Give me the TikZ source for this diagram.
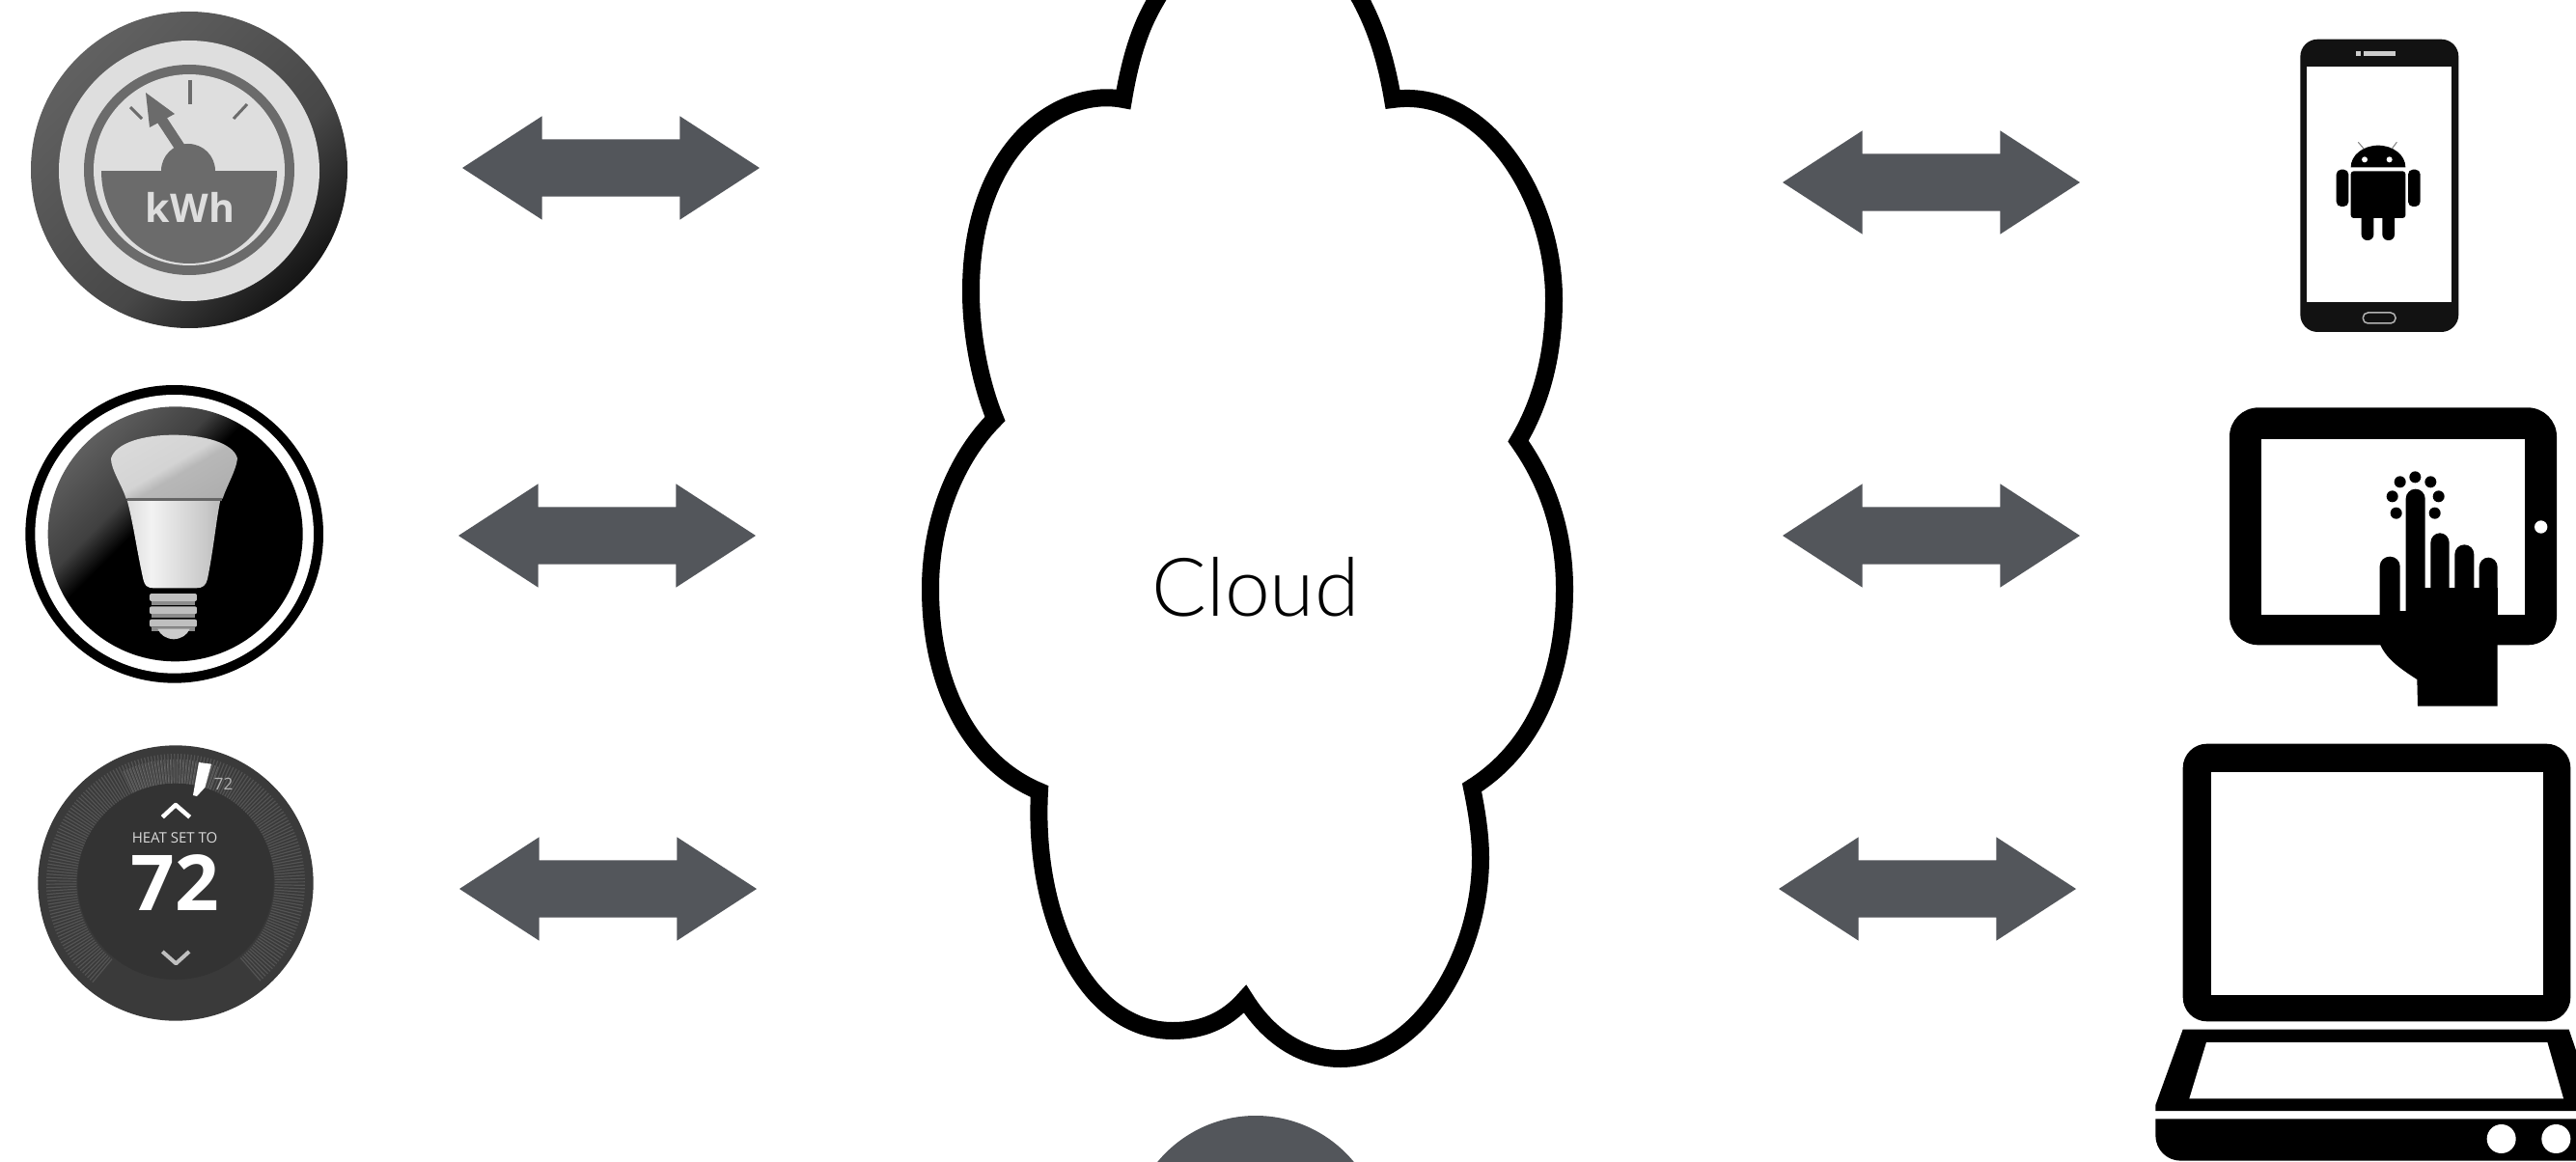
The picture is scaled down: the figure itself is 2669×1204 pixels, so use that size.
\documentclass[tikz,border=0pt]{standalone}
\usepackage{fontspec}
\usetikzlibrary{shapes.arrows,shapes.geometric}
\setmainfont{Liberation Sans}
\newfontfamily\cloudfont{Lato Light}
\newfontfamily\iconfont[BoldFont={Open Sans Bold}]{Open Sans}
\definecolor{arrowgrey}{HTML}{53565B}
\definecolor{meterdark}{HTML}{6B6B6B}
\definecolor{meterlight}{HTML}{DEDEDE}
\definecolor{thermo}{HTML}{3A3A3A}
\definecolor{thermoin}{HTML}{333333}
\definecolor{thermoband}{HTML}{545454}
\pgfdeclareverticalshading{glossy}{100bp}{color(0bp)=(black); color(56bp)=(black); color(62bp)=(black!75!white); color(100bp)=(black!40!white)}
\pgfdeclareverticalshading{ringshade}{100bp}{color(0bp)=(black); color(25bp)=(black!92!white); color(42bp)=(black!72!white); color(75bp)=(black!62!white); color(100bp)=(black!50!white)}
\pgfdeclareverticalshading{bulbtop}{100bp}{color(0bp)=(black!35!white); color(45bp)=(black!28!white); color(52bp)=(black!17!white); color(100bp)=(black!12!white)}
\pgfdeclarehorizontalshading{bulblow}{100bp}{color(0bp)=(black!30!white); color(38bp)=(black!5!white); color(65bp)=(black!20!white); color(100bp)=(black!42!white)}
\tikzset{
  duplex/.style={double arrow, draw=none, fill=arrowgrey, minimum height=308pt, minimum width=107pt,
    double arrow head extend=24pt, inner xsep=0pt, inner ysep=29.5pt, double arrow tip angle=66, anchor=center, text width=0pt},
  iconblack/.style={fill=black},
  outline/.style={draw=black, line width=18pt, line join=miter, miter limit=3}
}
\begin{document}
\begin{tikzpicture}[x=1pt,y=-1pt]
\useasboundingbox (0,0) rectangle (2669,1204);
\clip (0,0) rectangle (2669,1204);
\fill[white] (0,0) rectangle (2669,1204);

% cloud
\draw[outline] (1164,103)
  .. controls (1172,55) and (1183,25) .. (1198,0)
  .. controls (1220,-40) and (1260,-60) .. (1300,-60)
  .. controls (1340,-60) and (1388,-40) .. (1410,0)
  .. controls (1423,25) and (1435,55) .. (1443,103)
  .. controls (1535,90) and (1610,200) .. (1610,310)
  .. controls (1610,365) and (1598,415) .. (1573,457)
  .. controls (1600,495) and (1621,545) .. (1621,610)
  .. controls (1621,700) and (1590,775) .. (1525,816)
  .. controls (1530,840) and (1534,865) .. (1534,889)
  .. controls (1534,990) and (1470,1097) .. (1389,1097)
  .. controls (1350,1097) and (1315,1075) .. (1290,1035)
  .. controls (1270,1058) and (1245,1068) .. (1215,1068)
  .. controls (1125,1068) and (1070,950) .. (1077,820)
  .. controls (1005,790) and (964,710) .. (964,610)
  .. controls (964,540) and (990,475) .. (1031,434)
  .. controls (1017,400) and (1006,350) .. (1006,302)
  .. controls (1006,150) and (1100,90) .. (1164,103)
  -- cycle;
\fill[white] (1300,1107) rectangle (1500,1130);
\node[inner sep=0pt, font=\cloudfont\fontsize{84pt}{84pt}\selectfont] (cloudlabel) at (1301,608) {Cloud};

% hub circle at the bottom
\node[circle, fill=arrowgrey, minimum size=264pt, inner sep=0pt] (hub) at (1301,1288) {};

% arrows
\node[duplex] (al1) at (633,174) {};
\node[duplex] (al2) at (629,555) {};
\node[duplex] (al3) at (630,921) {};
\node[duplex] (ar1) at (2001,189) {};
\node[duplex] (ar2) at (2001,555) {};
\node[duplex] (ar3) at (1997,921) {};

% meter icon
\shade[shading=ringshade, shading angle=45] (196,176) circle[radius=164];
\fill[meterlight] (196,177) circle[radius=135];
\fill[meterdark] (196,176) circle[radius=109];
\fill[meterlight] (196,176) circle[radius=99];
\fill[meterdark] (105,177) -- (287,177) arc[start angle=0,end angle=180,x radius=91,y radius=96] -- cycle;
\fill[meterdark] (167,177) arc[start angle=180,end angle=360,radius=28] -- cycle;
\draw[meterdark,line width=11pt] (188,155) -- (165,120);
\fill[meterdark] (151,96) -- (181,118) -- (155,132) -- cycle;
\draw[meterdark,line width=4pt] (196.5,83) -- (196.5,108);
\draw[meterdark,line width=3pt] (135,111) -- (147,123);
\draw[meterdark,line width=3pt] (256,108) -- (242,123);
\node[text=meterlight, inner sep=0pt, font=\iconfont\bfseries\fontsize{41pt}{41pt}\selectfont] (kwh) at (197,215) {kWh};

% bulb icon (coordinates of a 3x crop)
\begin{scope}[shift={(0,380)}]
\begin{scope}[scale=1/3]
\fill[black] (542,520) circle[radius=463];
\fill[white] (542,520) circle[radius=433];
\shade[shading=glossy, shading angle=45] (545,520) circle[radius=396];
\shade[shading=bulbtop, shading angle=30] (345,285) .. controls (360,235) and (450,212) .. (540,212) .. controls (630,212) and (725,235) .. (738,285) .. controls (735,320) and (705,370) .. (692,410) -- (392,410) .. controls (380,370) and (345,320) .. (345,285) -- cycle;
\shade[shading=bulblow] (395,414) -- (685,414) .. controls (670,490) and (665,560) .. (645,660) .. controls (640,680) and (630,688) .. (610,688) -- (480,688) .. controls (455,688) and (450,680) .. (445,660) .. controls (425,570) and (415,490) .. (395,414) -- cycle;
\fill[black!60!white] (395,408) rectangle (690,416);
\foreach \yy in {705,745,785} {
  \fill[black!25!white, rounded corners=2pt] (465,\yy) rectangle (612,\yy+24);
  \fill[black!45!white] (472,\yy+24) rectangle (606,\yy+36);
}
\fill[black!20!white] (490,815) -- (590,815) .. controls (580,835) and (565,845) .. (540,847) .. controls (515,845) and (500,835) .. (490,815) -- cycle;
\end{scope}
\end{scope}

% thermostat icon
\begin{scope}[shift={(0,750)}]
\begin{scope}[scale=1/3]
\fill[thermo] (546,495) circle[radius=428];
\begin{scope}[shift={(546,495)}]
\foreach \a in {130,131.5,...,410} {
  \draw[thermoband, line width=1.2pt] (\a:308) -- (\a:402);
}
\foreach \a in {245,246.5,...,290} {
  \draw[black!60!white, line width=0.8pt] (\a:305) -- (\a:385);
}
\end{scope}
\fill[thermoin] (546,490) circle[radius=305];
\fill[white] (618,120) -- (657,125) -- (637,198) -- (612,225) -- (600,222) -- cycle;
\draw[white,line width=4.5pt,line join=round] (505,290) -- (546,252) -- (590,290);
\draw[black!25!white,line width=4pt,line join=round] (505,708) -- (547,745) -- (588,708);
\end{scope}
\end{scope}
\node[text=black!15!white, inner sep=0pt, font=\iconfont\fontsize{15pt}{15pt}\selectfont] (heatset) at (181,868) {HEAT SET TO};
\node[text=white, inner sep=0pt, font=\iconfont\bfseries\fontsize{80pt}{80pt}\selectfont] (setpoint) at (181,915) {72};
\node[text=black!30!white, inner sep=0pt, font=\iconfont\fontsize{17pt}{17pt}\selectfont] (smallset) at (231.5,812) {72};

% phone icon
\begin{scope}[shift={(2330,20)}]
\begin{scope}[scale=1/3]
\fill[black!93!white, rounded corners=18pt] (160,62) rectangle (652,972);
\fill[white] (180,147) rectangle (630,880);
\fill[black!20!white] (357,100) rectangle (457,115);
\fill[black!20!white] (333,100) rectangle (347,115);
\draw[black!30!white, line width=1.5pt, rounded corners=5pt] (355,912) rectangle (456,945);
\fill[iconblack] (317,460) arc[start angle=180,end angle=360,x radius=85,y radius=68] -- cycle;
\fill[white] (360,436) circle[radius=9];
\fill[white] (437,436) circle[radius=9];
\draw[black!50!white,line width=1pt] (340,382) -- (357,402);
\draw[black!50!white,line width=1pt] (460,382) -- (445,402);
\fill[iconblack, rounded corners=3pt] (317,472) rectangle (487,618);
\fill[iconblack, rounded corners=5pt] (272,467) rectangle (310,582);
\fill[iconblack, rounded corners=5pt] (495,467) rectangle (533,582);
\fill[iconblack, rounded corners=6pt] (350,600) rectangle (388,687);
\fill[iconblack, rounded corners=6pt] (415,600) rectangle (453,687);
\end{scope}
\end{scope}

% tablet icon
\begin{scope}[shift={(2290,400)}]
\begin{scope}[scale=1/3]
\fill[iconblack, rounded corners=30pt] (60,67) rectangle (1077,805);
\fill[white] (160,165) rectangle (978,710);
\fill[white] (1028,438) circle[radius=20];
\foreach \xa/\xb/\ytop in {527/590/530, 608/668/320, 685/743/457, 760/820/493, 836/893/533} {
  \fill[iconblack] (\xa,720) -- (\xa,\ytop+30) arc[start angle=180,end angle=360,x radius={(\xb-\xa)/2},y radius=30] -- (\xb,720) -- cycle;
}
\fill[iconblack] (527,700) rectangle (893,805);
\fill[iconblack] (608,628) rectangle (893,705);
\fill[iconblack] (527,800) .. controls (545,845) and (585,875) .. (643,912) -- (645,995) -- (893,995) -- (893,800) -- cycle;
\foreach \dx/\dy in {637/283, 590/298, 685/298, 566/343, 710/343, 578/395, 698/395} {
  \fill[iconblack] (\dx,\dy) circle[radius=18];
}
\end{scope}
\end{scope}

% laptop icon
\begin{scope}[shift={(2210,750)}]
\begin{scope}[scale=1/3]
\fill[iconblack, rounded corners=25pt] (155,62) rectangle (1360,925);
\fill[white] (242,150) rectangle (1275,842);
\fill[iconblack] (155,950) -- (1355,950) -- (1440,1203) -- (70,1203) -- (70,1185) -- cycle;
\fill[white] (228,990) -- (1288,990) -- (1338,1165) -- (175,1165) -- cycle;
\fill[iconblack] (70,1228) -- (70,1280) arc[start angle=180,end angle=90,radius=78] -- (1500,1358) -- (1500,1228) -- cycle;
\fill[white] (1145,1290) circle[radius=45];
\fill[white] (1315,1290) circle[radius=45];
\end{scope}
\end{scope}
\end{tikzpicture}
\end{document}
